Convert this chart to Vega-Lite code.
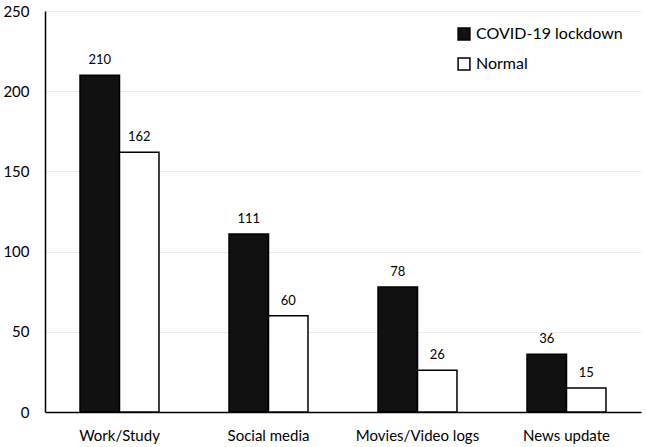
{
  "$schema": "https://vega.github.io/schema/vega-lite/v6.json",
  "width": 596,
  "height": 401,
  "autosize": {"type": "none"},
  "padding": {"left": 45, "top": 11, "right": 5, "bottom": 35},
  "background": "white",
  "config": {
    "view": {"stroke": null},
    "font": "Lato"
  },
  "data": {
    "values": [
      {"activity": "Work/Study", "period": "COVID-19 lockdown", "count": 210},
      {"activity": "Work/Study", "period": "Normal", "count": 162},
      {"activity": "Social media", "period": "COVID-19 lockdown", "count": 111},
      {"activity": "Social media", "period": "Normal", "count": 60},
      {"activity": "Movies/Video logs", "period": "COVID-19 lockdown", "count": 78},
      {"activity": "Movies/Video logs", "period": "Normal", "count": 26},
      {"activity": "News update", "period": "COVID-19 lockdown", "count": 36},
      {"activity": "News update", "period": "Normal", "count": 15}
    ]
  },
  "encoding": {
    "x": {
      "field": "activity",
      "type": "nominal",
      "sort": ["Work/Study", "Social media", "Movies/Video logs", "News update"],
      "scale": {"paddingInner": 0.47, "paddingOuter": 0.235},
      "axis": {
        "title": null,
        "labelAngle": 0,
        "ticks": false,
        "labelPadding": 16,
        "labelFontSize": 15,
        "labelColor": "#000",
        "domainColor": "#000",
        "domainWidth": 1.5
      }
    },
    "xOffset": {
      "field": "period",
      "type": "nominal",
      "sort": ["COVID-19 lockdown", "Normal"]
    },
    "y": {
      "field": "count",
      "type": "quantitative",
      "scale": {"domain": [0, 250], "nice": false},
      "axis": {
        "title": null,
        "values": [0, 50, 100, 150, 200, 250],
        "ticks": false,
        "labelPadding": 16,
        "labelFontSize": 15,
        "labelColor": "#000",
        "domainColor": "#000",
        "domainWidth": 1.5,
        "grid": true,
        "gridColor": "#ebebeb",
        "gridWidth": 1
      }
    }
  },
  "layer": [
    {
      "mark": {"type": "bar", "stroke": "#000", "strokeWidth": 1.5},
      "encoding": {
        "fill": {
          "field": "period",
          "type": "nominal",
          "scale": {"domain": ["COVID-19 lockdown", "Normal"], "range": ["#111111", "#ffffff"]},
          "legend": {
            "title": null,
            "orient": "none",
            "legendX": 411,
            "legendY": 15,
            "symbolType": "square",
            "symbolSize": 140,
            "symbolStrokeColor": "#000",
            "symbolStrokeWidth": 1.5,
            "labelFontSize": 16,
            "labelColor": "#000",
            "labelOffset": 4,
            "rowPadding": 12,
            "labelLimit": 300
          }
        }
      }
    },
    {
      "mark": {"type": "text", "baseline": "bottom", "dy": -8, "fontSize": 13, "color": "#000"},
      "encoding": {
        "text": {"field": "count", "type": "quantitative"}
      }
    }
  ]
}
